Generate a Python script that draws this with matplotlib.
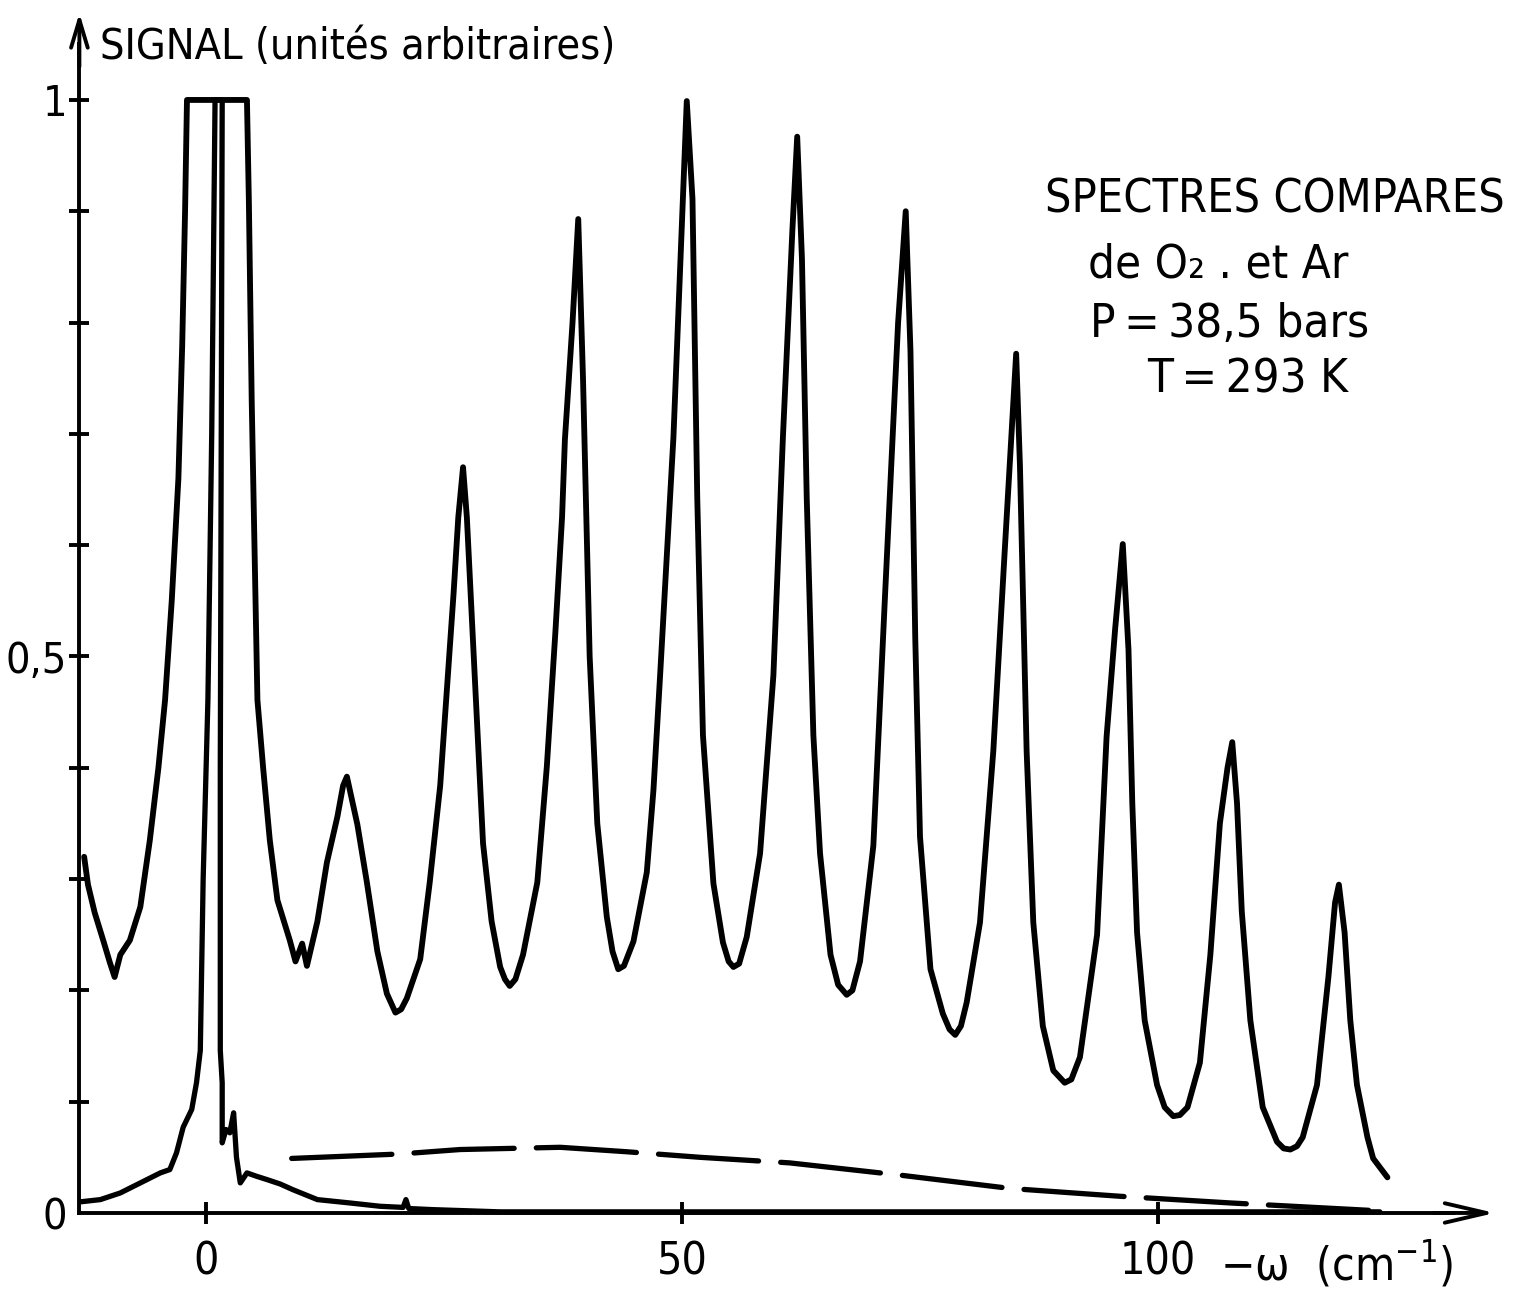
import matplotlib
matplotlib.use('Agg')
import matplotlib.pyplot as plt

# O2 spectrum (upper trace)
o2_x = [-12.8, -12.4, -11.7, -10.8, -10.1, -9.6, -9.0, -8.0, -6.9, -5.9, -5.0, -4.3, -3.6, -2.9, -2.5, -2.2, -2.0,
        4.3, 4.5, 4.8, 5.2, 5.4, 6.0, 6.7, 7.5, 8.8, 9.4, 10.1, 10.6, 11.7, 12.7, 13.8, 14.4, 14.8,
        15.9, 16.9, 18.0, 19.0, 19.9, 20.5, 21.1, 22.5, 23.5, 24.6, 25.3, 26.0, 26.5, 27.0,
        27.4, 27.9, 28.5, 29.1, 30.0, 30.9, 31.4, 31.9, 32.5, 33.3, 34.8, 35.8, 36.7, 37.4, 37.7, 38.5, 39.1,
        39.6, 40.3, 41.1, 42.1, 42.7, 43.3, 43.9, 44.9, 46.3, 47.0, 47.7, 49.1, 50.1, 50.5,
        51.1, 51.6, 52.2, 53.3, 54.3, 54.9, 55.4, 56.0, 56.8, 58.2, 59.6, 60.6, 61.6, 62.1,
        62.6, 63.1, 63.8, 64.5, 65.6, 66.4, 67.3, 67.9, 68.7, 70.1, 71.3, 72.7, 73.5,
        74.0, 74.5, 75.0, 76.1, 77.4, 78.1, 78.7, 79.3, 79.9, 81.3, 82.7, 83.9, 85.1,
        85.5, 86.2, 86.9, 87.9, 89.0, 90.2, 90.9, 91.8, 93.6, 94.6, 95.5, 96.3,
        96.9, 97.3, 97.8, 98.6, 99.9, 100.7, 101.6, 102.3, 103.1, 104.4, 105.5, 106.5, 107.3, 107.8,
        108.3, 108.8, 109.7, 111.0, 112.5, 113.2, 113.9, 114.6, 115.2, 116.7, 117.9, 118.6, 119.0,
        119.6, 120.2, 120.9, 122.0, 122.6, 124.1]
o2_y = [0.32, 0.295, 0.27, 0.245, 0.225, 0.212, 0.232, 0.245, 0.275, 0.335, 0.40, 0.461, 0.55, 0.66, 0.78, 0.90, 1.0,
        1.0, 0.91, 0.73, 0.55, 0.461, 0.40, 0.335, 0.281, 0.245, 0.226, 0.242, 0.222, 0.262, 0.315, 0.356, 0.384, 0.392,
        0.349, 0.297, 0.235, 0.197, 0.180, 0.183, 0.193, 0.228, 0.297, 0.384, 0.470, 0.556, 0.625, 0.670,
        0.625, 0.539, 0.436, 0.332, 0.262, 0.221, 0.210, 0.204, 0.210, 0.232, 0.297, 0.401, 0.522, 0.625, 0.695, 0.80, 0.893,
        0.750, 0.50, 0.35, 0.266, 0.235, 0.219, 0.222, 0.244, 0.306, 0.38, 0.483, 0.697, 0.911, 0.999,
        0.911, 0.643, 0.429, 0.296, 0.243, 0.226, 0.221, 0.224, 0.248, 0.323, 0.483, 0.697, 0.884, 0.967,
        0.857, 0.643, 0.429, 0.323, 0.232, 0.205, 0.196, 0.200, 0.226, 0.33, 0.55, 0.80, 0.900,
        0.774, 0.517, 0.338, 0.219, 0.179, 0.165, 0.160, 0.168, 0.189, 0.261, 0.415, 0.595, 0.772,
        0.671, 0.415, 0.261, 0.168, 0.128, 0.117, 0.120, 0.140, 0.25, 0.428, 0.525, 0.601,
        0.506, 0.368, 0.252, 0.173, 0.115, 0.095, 0.087, 0.088, 0.095, 0.135, 0.232, 0.35, 0.40, 0.423,
        0.368, 0.271, 0.173, 0.095, 0.064, 0.058, 0.057, 0.060, 0.068, 0.115, 0.212, 0.279, 0.295,
        0.252, 0.173, 0.115, 0.068, 0.049, 0.032]

# Ar spectrum (lower trace)
ar_x = [-13.2, -11.1, -9.0, -6.9, -4.8, -3.8, -3.1, -2.4, -1.5, -1.0, -0.6, -0.3, 0.2, 0.6, 0.95,
        1.7, 1.6, 1.5, 1.5, 1.7, 1.7, 2.1, 2.5, 2.9, 3.2, 3.6, 4.3, 5.3, 6.4, 7.8, 9.1, 11.7,
        15.1, 18.3, 20.7, 21.0, 21.3, 23.8, 30.9, 60.0, 123.3]
ar_y = [0.010, 0.012, 0.018, 0.027, 0.036, 0.039, 0.054, 0.077, 0.093, 0.117, 0.146, 0.30, 0.461, 0.70, 1.0,
        1.0, 0.70, 0.40, 0.146, 0.117, 0.063, 0.075, 0.072, 0.09, 0.05, 0.027, 0.036, 0.033, 0.030, 0.026, 0.021, 0.012,
        0.009, 0.006, 0.005, 0.012, 0.004, 0.003, 0.001, 0.001, 0.001]

# dashed baseline
dash_x = [9.0, 20.4, 26.7, 37.2, 44.2, 51.9, 61.3, 72.9, 84.5, 96.0, 107.6, 123.0]
dash_y = [0.049, 0.053, 0.057, 0.059, 0.055, 0.050, 0.045, 0.034, 0.022, 0.015, 0.009, 0.002]

x_ticks = [0, 50, 100]
x_labels = ['0', '50', '100']
y_ticks = [0, 0.5, 1]
y_labels = ['0', '0,5', '1']
y_minor = [0.1, 0.2, 0.3, 0.4, 0.6, 0.7, 0.8, 0.9]

plt.rcParams['font.family'] = 'DejaVu Sans'
plt.rcParams['font.stretch'] = 'condensed'

X0 = -13.3  # where the signal axis crosses

fig = plt.figure(figsize=(15.19, 12.96), dpi=100)
ax = fig.add_axes([0, 0, 1, 1])
ax.set_xlim(-21.64, 137.92)
ax.set_ylim(-0.0746, 1.0898)

ax.plot(o2_x, o2_y, color='k', lw=4.2, solid_joinstyle='round', solid_capstyle='round')
ax.plot(ar_x, ar_y, color='k', lw=3.8, solid_joinstyle='round', solid_capstyle='round')
ax.plot(dash_x, dash_y, color='k', lw=3.8, dashes=(19, 4.2), dash_capstyle='round')

for s in ['top', 'right']:
    ax.spines[s].set_visible(False)
ax.spines['left'].set_position(('data', X0))
ax.spines['left'].set_bounds(0, 1.05)
ax.spines['bottom'].set_position(('data', 0))
ax.spines['bottom'].set_bounds(X0, 131)
for s in ['left', 'bottom']:
    ax.spines[s].set_linewidth(2.8)

arr = dict(color='k', lw=2.8, shrinkA=0, shrinkB=0, mutation_scale=20)
ax.annotate('', xy=(X0, 1.078), xytext=(X0, 1.03),
            arrowprops=dict(arrowstyle='->,head_length=1.0,head_width=0.3', **arr))
ax.annotate('', xy=(135.4, 0), xytext=(129, 0),
            arrowprops=dict(arrowstyle='->,head_length=1.5,head_width=0.35', **arr))

ax.set_xticks(x_ticks)
ax.set_xticklabels(x_labels)
ax.set_yticks(y_ticks)
ax.set_yticklabels(y_labels)
ax.set_yticks(y_minor, minor=True)
ax.tick_params(axis='x', direction='inout', length=16, width=2.8, pad=12, labelsize=32)
ax.tick_params(axis='y', which='both', direction='inout', length=14, width=2.8, pad=2, labelsize=31)
ax.yaxis.get_major_ticks()[0].tick1line.set_visible(False)

ax.text(-11.1, 1.048, 'SIGNAL (unités arbitraires)', fontsize=31, va='center', ha='left')
ax.text(106.5, -0.047, '−ω  (cm$^{\\mathregular{-1}}$)', fontsize=33, va='center', ha='left')

ax.text(88.1, 0.910, 'SPECTRES COMPARES', fontsize=33.5, va='center', ha='left')
ax.text(92.6, 0.852, 'de O₂ . et Ar', fontsize=34, va='center', ha='left')
ax.text(92.9, 0.798, 'P\u2009=\u200938,5 bars', fontsize=34, va='center', ha='left')
ax.text(98.9, 0.748, 'T\u2009=\u2009293 K', fontsize=34, va='center', ha='left')

fig.savefig('out.png', dpi=100)
